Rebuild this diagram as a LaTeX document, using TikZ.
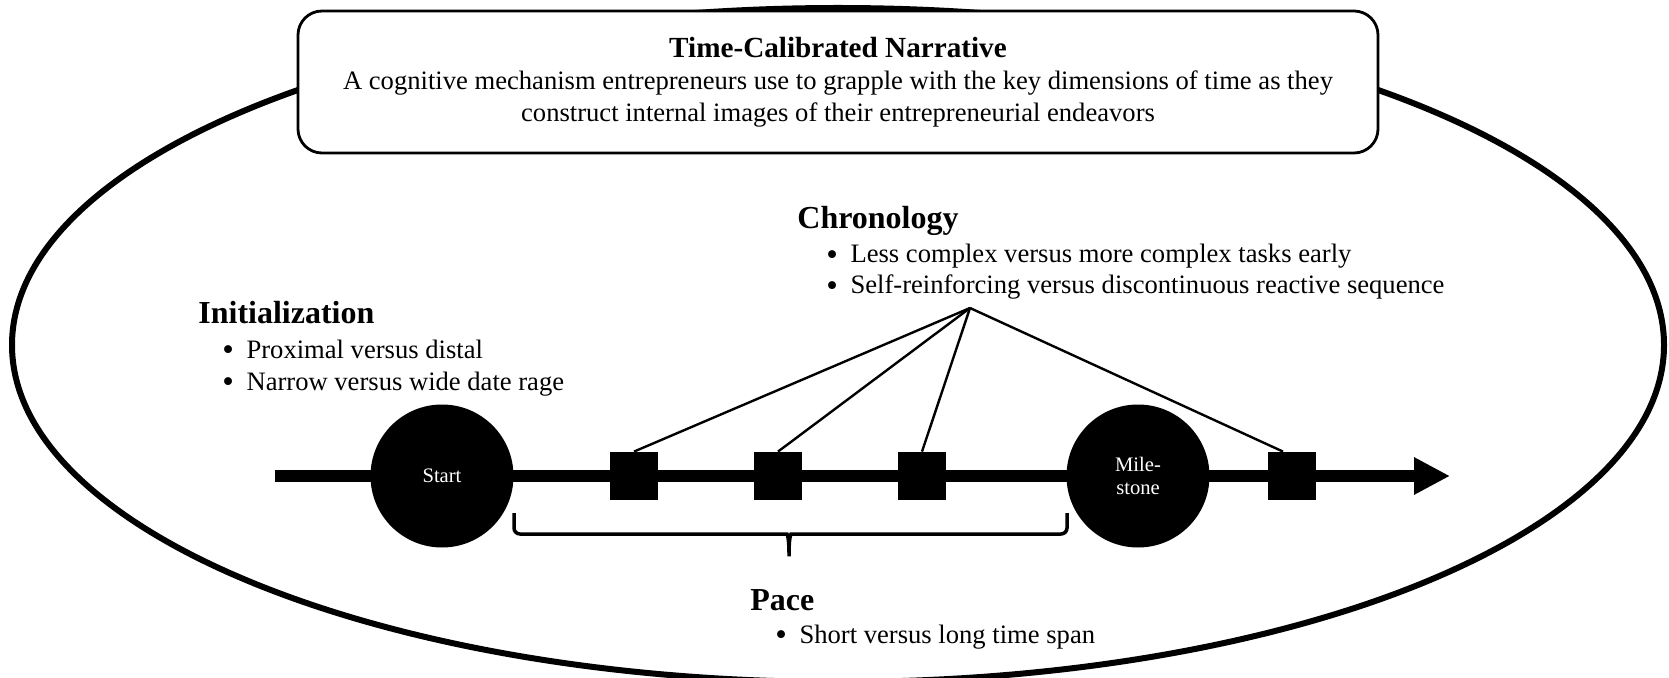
\documentclass[tikz,border=0pt]{standalone}
\usepackage{fontspec}
\setmainfont{Liberation Serif}
\usetikzlibrary{arrows.meta,positioning}

\newcommand\bigbullet{\smash{\raisebox{-1.3pt}{\fontsize{16.5}{16}\selectfont\textbullet}}\hspace{6.3pt}}

\tikzset{
  body/.style={font=\fontsize{13.3}{16}\selectfont},
  head/.style={font=\fontsize{16}{19}\selectfont\bfseries, anchor=base west, inner sep=0pt},
  item/.style={body, anchor=base west, inner sep=0pt},
  event/.style={circle, fill=black, text=white, minimum size=71.5pt, inner sep=0pt,
    align=center, font=\fontsize{10.3}{11.5}\selectfont},
  task/.style={rectangle, fill=black, minimum size=24pt, inner sep=0pt},
  link/.style={line width=1.2pt},
}

\begin{document}
\begin{tikzpicture}[x=0.5pt, y=-0.5pt]
\useasboundingbox (0,0) rectangle (1669,678);

% outer frame
\draw[line width=3pt] (838,345) ellipse [x radius=826, y radius=337];

% definition box
\node[draw, line width=1.4pt, rounded corners=12pt, fill=white, minimum width=540pt,
  minimum height=71pt, align=center, body] (narr) at (838,82)
  {{\fontsize{14.6}{16}\selectfont\bfseries Time-Calibrated Narrative}\\
   A cognitive mechanism entrepreneurs use to grapple with the key dimensions of time as they\\
   construct internal images of their entrepreneurial endeavors};

% timeline
\coordinate (tlstart) at (275,476);
\coordinate (tlend) at (1450,476);
\draw[line width=6.3pt, -{Triangle[length=18pt, width=17.5pt]}] (tlstart) -- (tlend);

\node[event] (start) at (442,476) {Start};
\node[event] (mile) at (1138,476) {Mile-\\stone};
\node[task] (t1) at (634,476) {};
\node[task] (t2) at (778,476) {};
\node[task] (t3) at (922,476) {};
\node[task] (t4) at (1292,476) {};

% chronology links
\coordinate (hub) at (970,308);
\foreach \t in {t1,t2,t3}
  \draw[link] (hub) -- (\t.north);
\draw[link] (hub) -- ([xshift=-4.5pt]t4.north);

% pace brace
\draw[line width=1.75pt, rounded corners=3pt] (514,513) -- (514,534) -- (781,534)
  .. controls (787,534) and (789,537) .. (789,560)
  .. controls (789,537) and (791,534) .. (797,534) -- (1067,534) -- (1067,513);

% labels
\node[head] (inithead) at (198,324) {Initialization};
\node[item] (init1) at (222,358) {\bigbullet Proximal versus distal};
\node[item] (init2) at (222,390) {\bigbullet Narrow versus wide date rage};

\node[head] (chronhead) at (797,229) {Chronology};
\node[item] (chron1) at (826,263) {\bigbullet Less complex versus more complex tasks early};
\node[item] (chron2) at (826,294) {\bigbullet Self-reinforcing versus discontinuous reactive sequence};

\node[head] (pacehead) at (750,610) {Pace};
\node[item] (pace1) at (775,643) {\bigbullet Short versus long time span};
\end{tikzpicture}
\end{document}
